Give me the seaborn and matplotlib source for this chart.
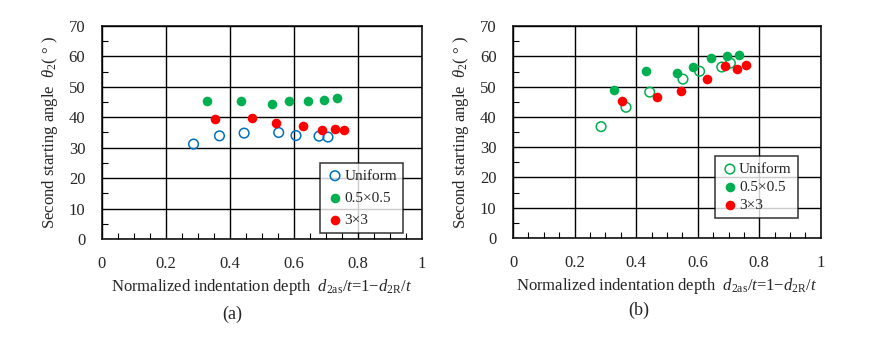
import matplotlib
matplotlib.use('Agg')
import matplotlib.pyplot as plt
from matplotlib.ticker import MultipleLocator
import pandas as pd
import seaborn as sns

# normalized indentation depth for each series (same in both panels)
x_uniform = [0.286, 0.367, 0.444, 0.552, 0.606, 0.678, 0.706]
x_half = [0.328, 0.433, 0.531, 0.585, 0.643, 0.694, 0.734]
x_three = [0.353, 0.468, 0.544, 0.629, 0.688, 0.729, 0.756]

# panel (a) second starting angle
a_uniform = [31.2, 33.9, 34.8, 35.0, 34.0, 33.8, 33.5]
a_half = [45.3, 45.4, 44.4, 45.3, 45.3, 45.8, 46.4]
a_three = [39.4, 39.9, 38.1, 37.0, 35.8, 36.2, 35.9]

# panel (b)
b_uniform = [36.8, 43.2, 48.2, 52.5, 55.1, 56.5, 57.8]
b_half = [48.8, 55.1, 54.4, 56.5, 59.4, 60.1, 60.5]
b_three = [45.3, 46.5, 48.5, 52.4, 56.9, 55.8, 57.1]

labels = ['Uniform', '0.5×0.5', '3×3']
x_ticks = [0, 0.2, 0.4, 0.6, 0.8, 1]
y_ticks = [0, 10, 20, 30, 40, 50, 60, 70]

sns.set_style('white')
plt.rcParams['font.family'] = 'serif'
plt.rcParams['font.serif'] = ['Liberation Serif', 'DejaVu Serif']
plt.rcParams['mathtext.fontset'] = 'custom'
plt.rcParams['mathtext.rm'] = 'Liberation Serif'
plt.rcParams['mathtext.it'] = 'Liberation Serif:italic'
plt.rcParams['font.size'] = 11

GREEN = '#00b050'
RED = '#ff0000'
BLUE = '#0070c0'

fig = plt.figure(figsize=(8.77, 3.49), dpi=100)
ax_a = fig.add_axes([0.1163, 0.3152, 0.365, 0.6103])
ax_b = fig.add_axes([0.585, 0.318, 0.351, 0.607])


def draw(ax, ys, uni_color, legend_anchor, spacing):
    xs = [x_uniform, x_half, x_three]
    styles = [
        dict(facecolor='none', edgecolor=uni_color, linewidth=1.1),
        dict(color=GREEN, edgecolor=GREEN, linewidth=0),
        dict(color=RED, edgecolor=RED, linewidth=0),
    ]
    for x, y, lab, st in zip(xs, ys, labels, styles):
        df = pd.DataFrame({'x': x, 'y': y})
        sns.scatterplot(data=df, x='x', y='y', ax=ax, s=48, label=lab,
                        zorder=3, **st)
    ax.set_xlim(0, 1)
    ax.set_ylim(0, 70)
    ax.set_xticks(x_ticks)
    ax.set_xticklabels(['0', '0.2', '0.4', '0.6', '0.8', '1'])
    ax.set_yticks(y_ticks)
    ax.xaxis.set_minor_locator(MultipleLocator(0.05))
    ax.yaxis.set_minor_locator(MultipleLocator(5))
    ax.tick_params(which='major', length=0, labelsize=12)
    ax.tick_params(axis='x', which='major', pad=12)
    ax.tick_params(axis='y', which='major', pad=12)
    ax.tick_params(which='minor', direction='in', length=4, width=0.8,
                   color='black', bottom=True, left=True)
    ax.grid(True, which='major', color='black', linewidth=1)
    for sp in ax.spines.values():
        sp.set_color('black')
        sp.set_linewidth(1.1)
    ax.set_axisbelow(True)
    ax.set_xlabel(r'Normalized indentation depth  $d_{2\mathrm{as}}/t$=1−$d_{2\mathrm{R}}/t$',
                  fontsize=12, labelpad=4)
    ax.set_ylabel(r'Second starting angle  $\theta_2$( ° )', fontsize=12, labelpad=6)
    leg = ax.legend(loc='lower right', bbox_to_anchor=legend_anchor,
                    frameon=True, fancybox=False, edgecolor='black',
                    handletextpad=0.0, borderpad=0.4, labelspacing=spacing,
                    handlelength=1.2, borderaxespad=0, fontsize=11)
    leg.get_frame().set_linewidth(1.1)


draw(ax_a, [a_uniform, a_half, a_three], BLUE, (0.94, 0.028), 0.55)
draw(ax_b, [b_uniform, b_half, b_three], GREEN, (0.925, 0.094), 0.28)

fig.text(0.2645, 1 - 314 / 349, '(a)', ha='center', va='center', fontsize=13)
fig.text(0.7286, 1 - 310 / 349, '(b)', ha='center', va='center', fontsize=13)

fig.savefig('out.png', dpi=100)
